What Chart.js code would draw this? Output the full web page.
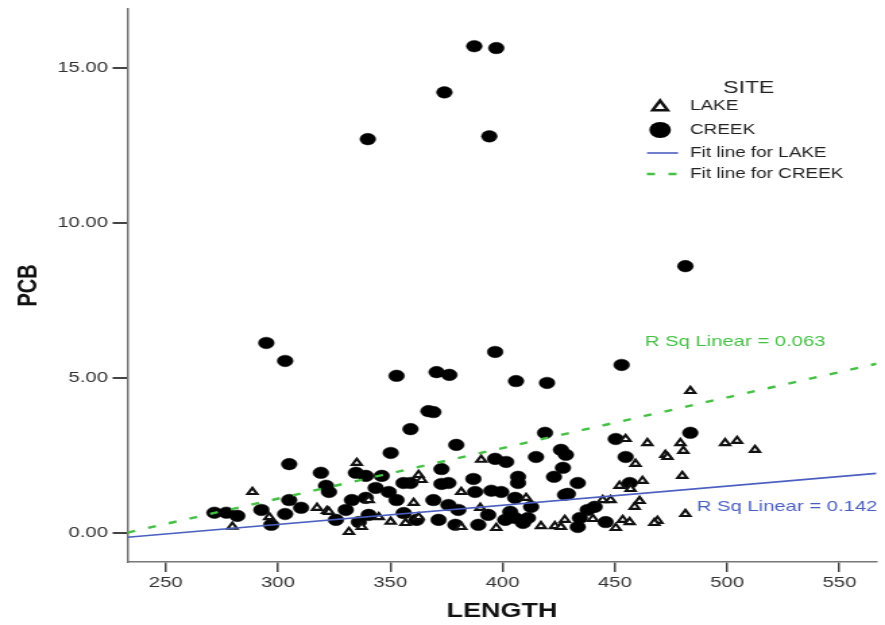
<!DOCTYPE html>
<html>
<head>
<meta charset="utf-8">
<script src="https://cdn.jsdelivr.net/npm/chart.js@4.4.1/dist/chart.umd.min.js"></script>
<style>
  html, body { margin: 0; padding: 0; background: #fff; overflow: hidden; }
  /* the original picture is stretched sideways, so draw narrow and widen with css */
  #chart { display: block; width: 885px !important; height: 625px !important; }
</style>
</head>
<body>
<canvas id="chart" width="656" height="625" style="width:885px;height:625px;display:block"></canvas>
<script>
// LAKE (triangles)
const lakeLength = [288.6, 296.1, 279.7, 317.4, 321.8, 335.1, 362.6, 363.9, 360.4, 340.4, 322.7, 344.9, 350.2, 356.8,
  362.6, 337.3, 331.6, 390.5, 381.6, 410.5, 390.1, 381.6, 397.2, 417.1, 423.3, 427.7, 454.8, 464.5, 472.5, 459.2,
  452.1, 462.3, 457.0, 444.6, 448.1, 461.0, 458.8, 440.2, 453.5, 456.6, 450.4, 426.0, 469.0, 467.6, 483.6, 479.2,
  480.5, 499.1, 504.4, 512.4, 473.4, 480.0, 481.4];
const lakePcb = [1.31, 0.50, 0.19, 0.80, 0.70, 2.25, 1.86, 1.70, 0.96, 1.05, 0.67, 0.50, 0.35, 0.31,
  0.50, 0.18, 0.02, 2.35, 1.31, 1.12, 0.80, 0.18, 0.15, 0.21, 0.21, 0.41, 3.02, 2.89, 2.51, 2.22,
  1.51, 1.67, 1.41, 1.05, 1.05, 1.02, 0.83, 0.44, 0.41, 0.34, 0.15, 0.18, 0.38, 0.31, 4.57, 2.89,
  2.64, 2.89, 2.96, 2.67, 2.44, 1.83, 0.60];

// CREEK (filled circles)
const creekLength = [387.4, 397.2, 374.1, 340.0, 394.1, 481.4, 294.8, 303.2, 396.7, 352.8, 370.6, 376.3, 406.0, 419.8,
  453.0, 367.0, 369.2, 359.0, 379.4, 418.9, 483.6, 305.0, 350.2, 396.7, 401.6, 414.9, 426.0, 426.9, 428.2, 450.4,
  454.8, 319.1, 321.4, 334.7, 339.1, 346.2, 372.8, 372.8, 355.9, 359.0, 343.5, 349.3, 387.0, 406.9, 406.9, 422.9,
  375.9, 387.8, 395.0, 399.4, 405.6, 427.8, 433.5, 429.1, 456.6, 441.0, 437.9, 434.4, 445.9, 433.5, 271.7, 277.0,
  281.9, 292.6, 297.0, 303.2, 305.0, 310.3, 325.8, 322.7, 332.9, 339.1, 352.8, 369.2, 375.9, 330.2, 340.4, 356.0,
  361.7, 371.5, 336.0, 379.0, 380.3, 393.6, 403.4, 412.7, 389.2, 401.2, 409.1, 405.6, 411.3];
const creekPcb = [15.70, 15.64, 14.21, 12.70, 12.79, 8.60, 6.12, 5.54, 5.83, 5.06, 5.18, 5.09, 4.89, 4.83,
  5.41, 3.92, 3.89, 3.34, 2.83, 3.22, 3.22, 2.21, 2.57, 2.38, 2.28, 2.44, 2.67, 2.09, 2.51, 3.02,
  2.44, 1.93, 1.51, 1.93, 1.83, 1.83, 2.05, 1.57, 1.60, 1.60, 1.44, 1.31, 1.73, 1.80, 1.60, 1.80,
  1.60, 1.31, 1.35, 1.31, 1.12, 1.22, 1.60, 1.25, 1.60, 0.83, 0.73, 0.47, 0.34, 0.18, 0.64, 0.64,
  0.54, 0.73, 0.25, 0.60, 1.05, 0.80, 0.41, 1.31, 1.05, 1.12, 1.05, 1.05, 0.89, 0.73, 0.57, 0.63,
  0.41, 0.41, 0.34, 0.25, 0.73, 0.57, 0.67, 0.83, 0.25, 0.41, 0.31, 0.47, 0.47];

// fit lines, ends at the axis limits
const fitLength = [233, 566.5];
const lakeFit = [-0.15, 1.91];
const creekFit = [0.0, 5.45];

const xTickValues = [250, 300, 350, 400, 450, 500, 550];
const yTickValues = [0, 5, 10, 15];

const FONT = "'Liberation Sans', Arial, sans-serif";
const BLUE = '#4b5fc0';
const GREEN = '#45c045';

const toPoints = (xs, ys) => xs.map((x, i) => ({ x: x, y: ys[i] }));

// legend and R Sq labels
const annotations = {
  id: 'annotations',
  afterDraw(chart) {
    const ctx = chart.ctx;
    ctx.save();
    ctx.textBaseline = 'middle';

    ctx.fillStyle = GREEN;
    ctx.font = '15px ' + FONT;
    ctx.textAlign = 'left';
    ctx.fillText('R Sq Linear = 0.063', 478, 342);
    ctx.fillStyle = BLUE;
    ctx.fillText('R Sq Linear = 0.142', 516.5, 507);

    ctx.fillStyle = '#222';
    ctx.font = '17px ' + FONT;
    ctx.textAlign = 'center';
    ctx.fillText('SITE', 555, 88);

    ctx.font = '14px ' + FONT;
    ctx.textAlign = 'left';
    ctx.fillText('LAKE', 511.5, 106);
    ctx.fillText('CREEK', 511.5, 130);
    ctx.fillText('Fit line for LAKE', 511.5, 153);
    ctx.fillText('Fit line for CREEK', 511.5, 174);

    // triangle
    const r = 6.4;
    ctx.beginPath();
    ctx.moveTo(489.3, 107 - r);
    ctx.lineTo(489.3 + r * 0.866, 107 + r * 0.5);
    ctx.lineTo(489.3 - r * 0.866, 107 + r * 0.5);
    ctx.closePath();
    ctx.fillStyle = '#fff';
    ctx.fill();
    ctx.lineWidth = 2.5;
    ctx.strokeStyle = '#111';
    ctx.stroke();

    // circle
    ctx.beginPath();
    ctx.arc(489.3, 130, 8, 0, Math.PI * 2);
    ctx.fillStyle = '#000';
    ctx.fill();

    // line samples
    ctx.lineWidth = 1.6;
    ctx.strokeStyle = BLUE;
    ctx.beginPath();
    ctx.moveTo(479.6, 153);
    ctx.lineTo(502.6, 153);
    ctx.stroke();

    ctx.lineWidth = 2.4;
    ctx.strokeStyle = GREEN;
    ctx.setLineDash([6, 10]);
    ctx.beginPath();
    ctx.moveTo(479.5, 174);
    ctx.lineTo(502, 174);
    ctx.stroke();
    ctx.restore();
  }
};

new Chart(document.getElementById('chart'), {
  type: 'scatter',
  data: {
    datasets: [
      {
        label: 'Fit line for LAKE',
        data: toPoints(fitLength, lakeFit),
        showLine: true,
        borderColor: BLUE,
        borderWidth: 1.6,
        pointRadius: 0,
        order: 0
      },
      {
        label: 'Fit line for CREEK',
        data: toPoints(fitLength, creekFit),
        showLine: true,
        borderColor: GREEN,
        borderWidth: 2.4,
        borderDash: [6, 10],
        pointRadius: 0,
        order: 0
      },
      {
        label: 'LAKE',
        data: toPoints(lakeLength, lakePcb),
        pointStyle: 'triangle',
        pointRadius: 4.1,
        backgroundColor: '#fff',
        borderColor: '#111',
        borderWidth: 2.1,
        order: 1
      },
      {
        label: 'CREEK',
        data: toPoints(creekLength, creekPcb),
        pointStyle: 'circle',
        pointRadius: 5.8,
        backgroundColor: '#000',
        borderColor: '#000',
        borderWidth: 0.5,
        order: 2
      }
    ]
  },
  options: {
    responsive: false,
    devicePixelRatio: 1,
    animation: false,
    events: [],
    layout: { padding: { left: 0, top: 9, right: 3.7, bottom: 0 } },
    plugins: { legend: { display: false }, tooltip: { enabled: false } },
    scales: {
      x: {
        type: 'linear',
        min: 233,
        max: 566.5,
        afterFit: s => { s.height = 63; s.paddingLeft = 0; s.paddingRight = 0; },
        afterBuildTicks: s => { s.ticks = xTickValues.map(v => ({ value: v })); },
        grid: { drawOnChartArea: false, drawTicks: true, tickLength: 10, color: '#444', lineWidth: 1.5 },
        border: { display: true, color: '#777', width: 1.6 },
        ticks: { font: { family: FONT, size: 15 }, color: '#333', padding: 2, maxRotation: 0, autoSkip: false },
        title: { display: true, text: 'LENGTH', color: '#111', font: { family: FONT, size: 20, weight: 'bold' }, padding: { top: 0, bottom: 2 } }
      },
      y: {
        type: 'linear',
        min: -0.95,
        max: 16.9,
        afterFit: s => { s.width = 94.5; s.paddingTop = 0; s.paddingBottom = 0; },
        afterBuildTicks: s => { s.ticks = yTickValues.map(v => ({ value: v })); },
        grid: { drawOnChartArea: false, drawTicks: true, tickLength: 11, color: '#444', lineWidth: 2 },
        border: { display: true, color: '#777', width: 1.5 },
        ticks: { font: { family: FONT, size: 15 }, color: '#333', padding: 3.5, callback: v => v.toFixed(2) },
        title: { display: true, text: 'PCB', color: '#111', font: { family: FONT, size: 20, weight: 'bold' }, padding: { top: 9, bottom: 0 } }
      }
    }
  },
  plugins: [annotations]
});
</script>
</body>
</html>
